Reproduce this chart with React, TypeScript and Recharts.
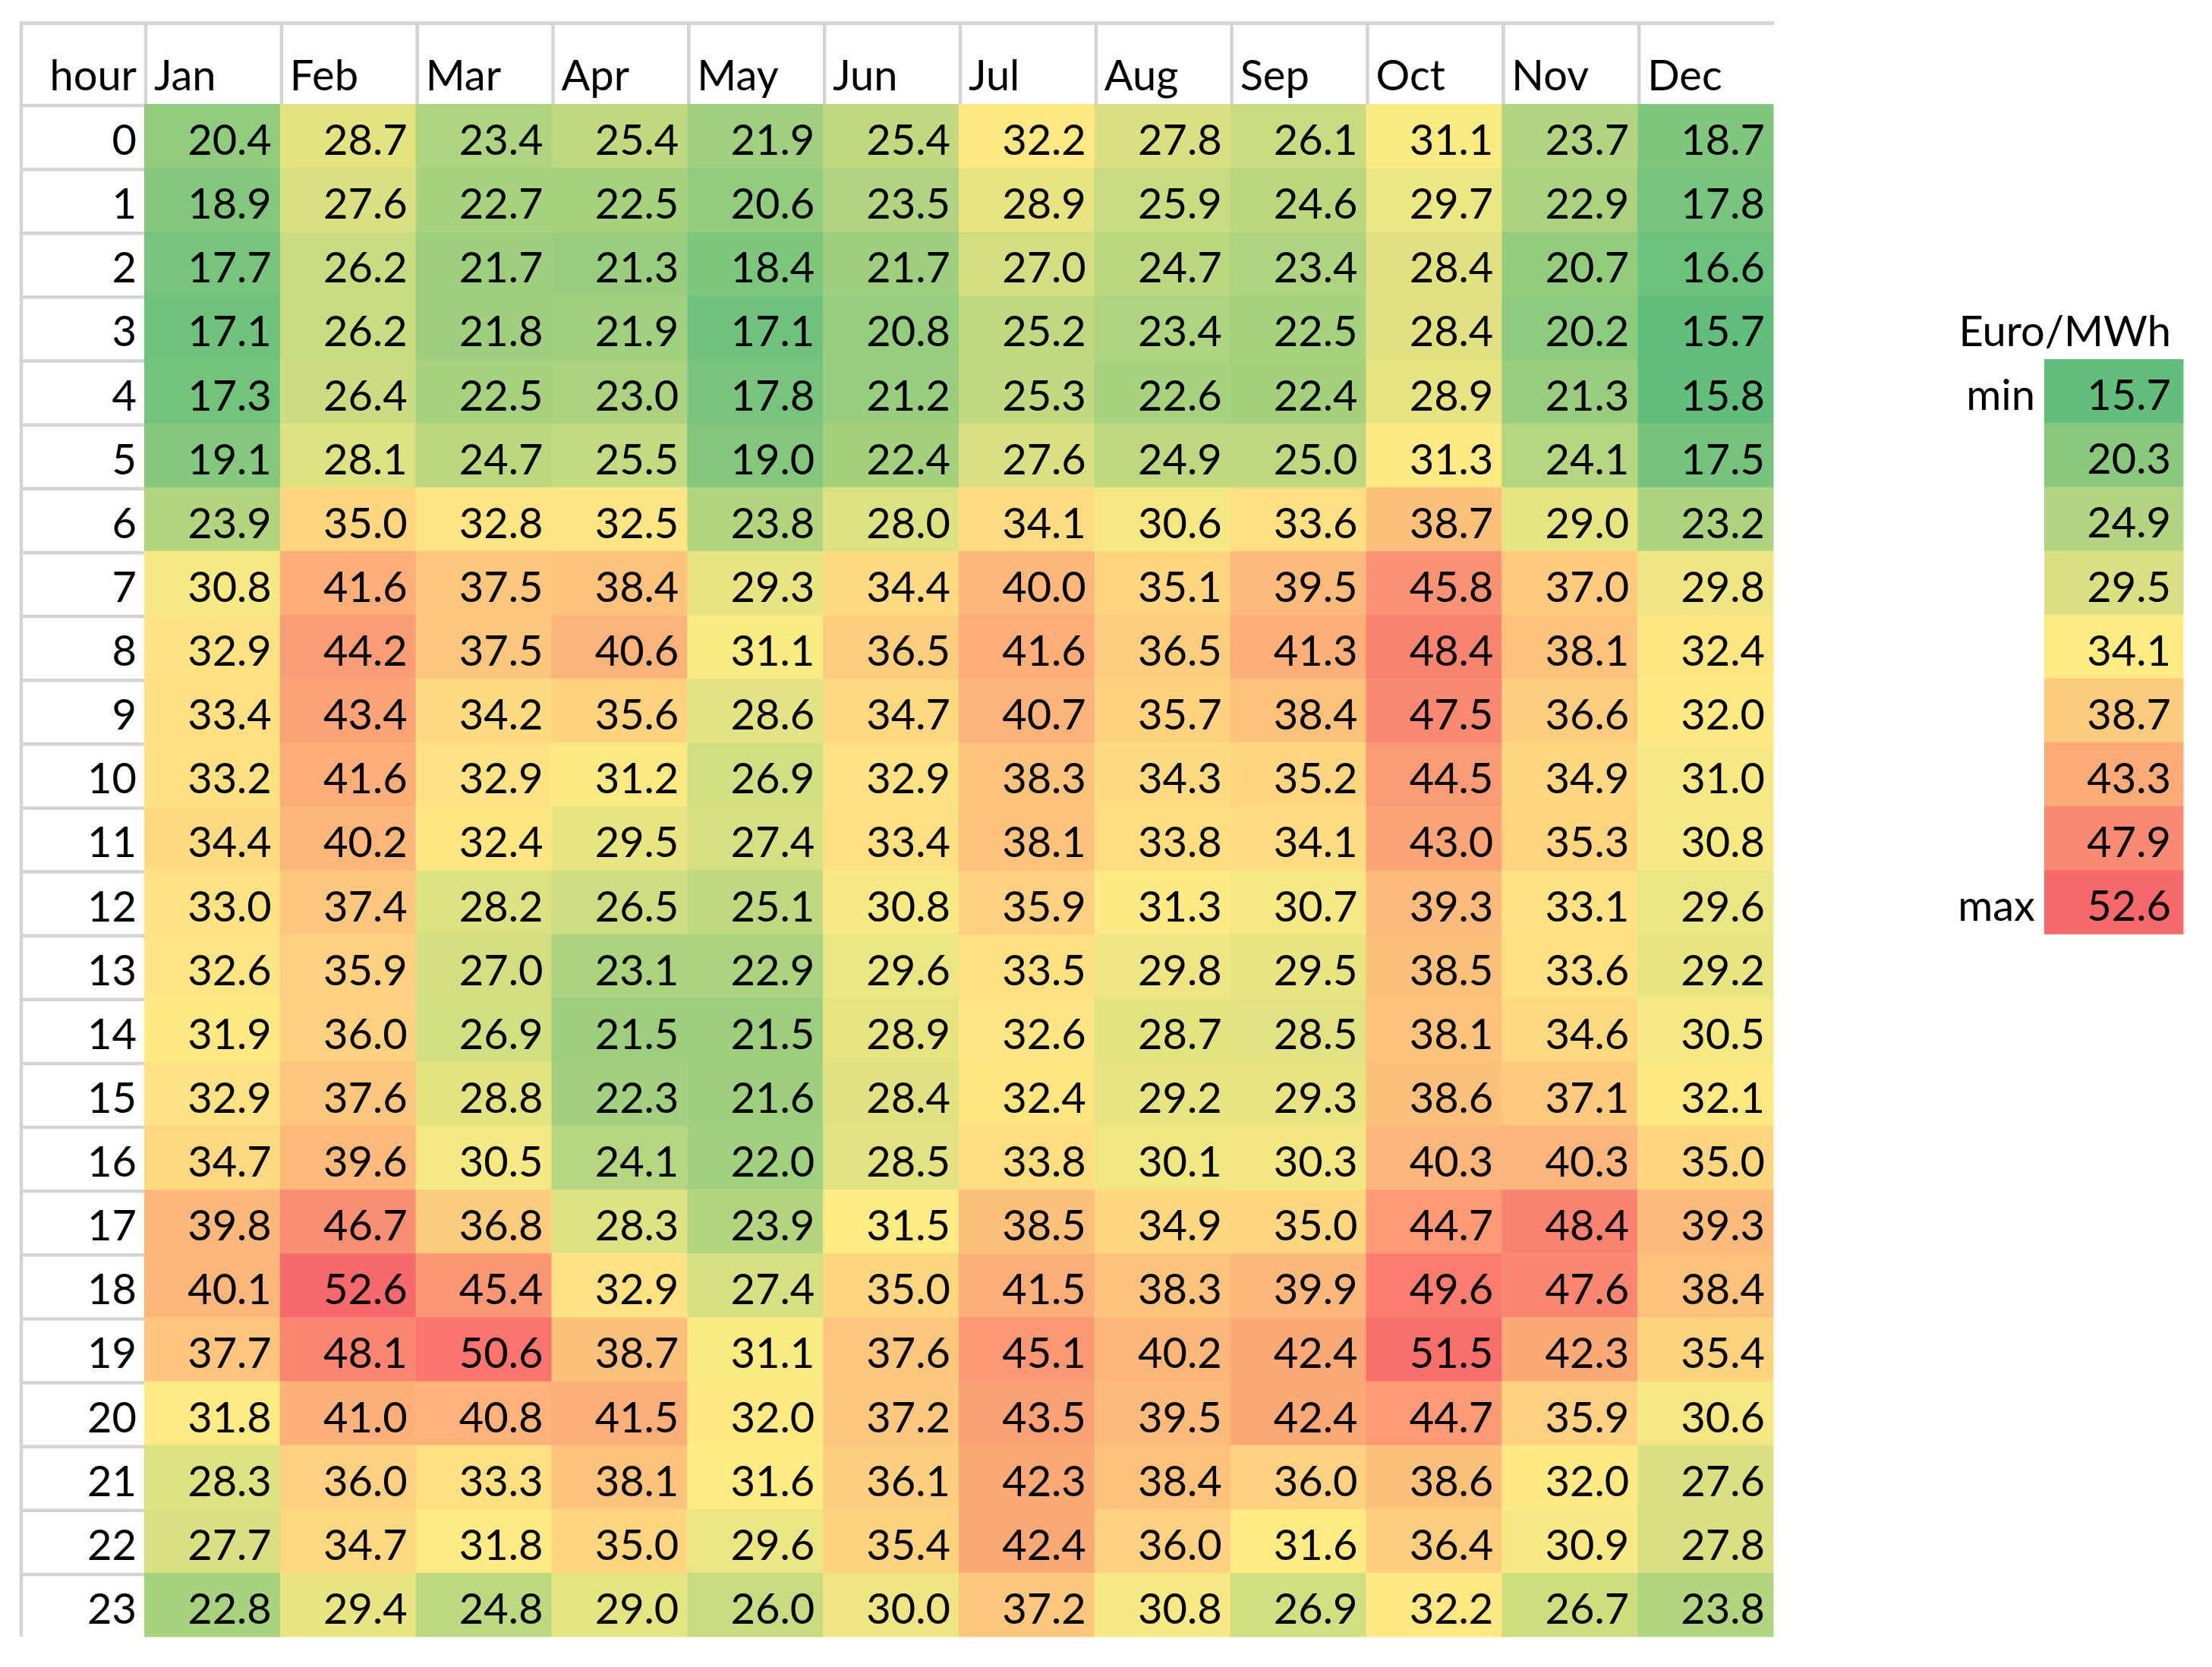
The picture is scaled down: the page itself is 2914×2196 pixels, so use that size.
import { ScatterChart, Scatter, XAxis, YAxis } from "recharts";

const months = ["Jan", "Feb", "Mar", "Apr", "May", "Jun", "Jul", "Aug", "Sep", "Oct", "Nov", "Dec"];
const hours = [0, 1, 2, 3, 4, 5, 6, 7, 8, 9, 10, 11, 12, 13, 14, 15, 16, 17, 18, 19, 20, 21, 22, 23];

// Euro/MWh per hour of day, one array per month
const jan = [20.4, 18.9, 17.7, 17.1, 17.3, 19.1, 23.9, 30.8, 32.9, 33.4, 33.2, 34.4, 33.0, 32.6, 31.9, 32.9, 34.7, 39.8, 40.1, 37.7, 31.8, 28.3, 27.7, 22.8];
const feb = [28.7, 27.6, 26.2, 26.2, 26.4, 28.1, 35.0, 41.6, 44.2, 43.4, 41.6, 40.2, 37.4, 35.9, 36.0, 37.6, 39.6, 46.7, 52.6, 48.1, 41.0, 36.0, 34.7, 29.4];
const mar = [23.4, 22.7, 21.7, 21.8, 22.5, 24.7, 32.8, 37.5, 37.5, 34.2, 32.9, 32.4, 28.2, 27.0, 26.9, 28.8, 30.5, 36.8, 45.4, 50.6, 40.8, 33.3, 31.8, 24.8];
const apr = [25.4, 22.5, 21.3, 21.9, 23.0, 25.5, 32.5, 38.4, 40.6, 35.6, 31.2, 29.5, 26.5, 23.1, 21.5, 22.3, 24.1, 28.3, 32.9, 38.7, 41.5, 38.1, 35.0, 29.0];
const may = [21.9, 20.6, 18.4, 17.1, 17.8, 19.0, 23.8, 29.3, 31.1, 28.6, 26.9, 27.4, 25.1, 22.9, 21.5, 21.6, 22.0, 23.9, 27.4, 31.1, 32.0, 31.6, 29.6, 26.0];
const jun = [25.4, 23.5, 21.7, 20.8, 21.2, 22.4, 28.0, 34.4, 36.5, 34.7, 32.9, 33.4, 30.8, 29.6, 28.9, 28.4, 28.5, 31.5, 35.0, 37.6, 37.2, 36.1, 35.4, 30.0];
const jul = [32.2, 28.9, 27.0, 25.2, 25.3, 27.6, 34.1, 40.0, 41.6, 40.7, 38.3, 38.1, 35.9, 33.5, 32.6, 32.4, 33.8, 38.5, 41.5, 45.1, 43.5, 42.3, 42.4, 37.2];
const aug = [27.8, 25.9, 24.7, 23.4, 22.6, 24.9, 30.6, 35.1, 36.5, 35.7, 34.3, 33.8, 31.3, 29.8, 28.7, 29.2, 30.1, 34.9, 38.3, 40.2, 39.5, 38.4, 36.0, 30.8];
const sep = [26.1, 24.6, 23.4, 22.5, 22.4, 25.0, 33.6, 39.5, 41.3, 38.4, 35.2, 34.1, 30.7, 29.5, 28.5, 29.3, 30.3, 35.0, 39.9, 42.4, 42.4, 36.0, 31.6, 26.9];
const oct = [31.1, 29.7, 28.4, 28.4, 28.9, 31.3, 38.7, 45.8, 48.4, 47.5, 44.5, 43.0, 39.3, 38.5, 38.1, 38.6, 40.3, 44.7, 49.6, 51.5, 44.7, 38.6, 36.4, 32.2];
const nov = [23.7, 22.9, 20.7, 20.2, 21.3, 24.1, 29.0, 37.0, 38.1, 36.6, 34.9, 35.3, 33.1, 33.6, 34.6, 37.1, 40.3, 48.4, 47.6, 42.3, 35.9, 32.0, 30.9, 26.7];
const dec = [18.7, 17.8, 16.6, 15.7, 15.8, 17.5, 23.2, 29.8, 32.4, 32.0, 31.0, 30.8, 29.6, 29.2, 30.5, 32.1, 35.0, 39.3, 38.4, 35.4, 30.6, 27.6, 27.8, 23.8];

const legendValues = [15.7, 20.3, 24.9, 29.5, 34.1, 38.7, 43.3, 47.9, 52.6];
const legendLabels = ["min", "", "", "", "", "", "", "", "max"];
const unitLabel = "Euro/MWh";
const cornerLabel = "hour";

const series = [jan, feb, mar, apr, may, jun, jul, aug, sep, oct, nov, dec];

// layout
const W = 2914;
const H = 2196;
const TABLE_LEFT = 28;
const TOP_LINE = 30.5;
const HEADER_TOP = 33;
const PLOT_TOP = 137;
const PLOT_LEFT = 190;
const PLOT_RIGHT = 2336;
const PLOT_BOTTOM = 2156;
const CELL_W = (PLOT_RIGHT - PLOT_LEFT) / months.length;
const CELL_H = (PLOT_BOTTOM - PLOT_TOP) / hours.length;
const LEG_LEFT = 2503;
const LEG_AXIS_W = 190;
const LEG_CELL_W = 183;
const GRID = "#d4d4d4";
const FONT = "Lato, 'Open Sans', sans-serif";
const FS = 56;

// excel 3-colour scale
const GREEN = [99, 190, 123];
const YELLOW = [255, 235, 132];
const RED = [248, 105, 107];

function median(vals: number[]) {
  const s = [...vals].sort((a, b) => a - b);
  const n = s.length;
  return n % 2 ? s[(n - 1) / 2] : (s[n / 2 - 1] + s[n / 2]) / 2;
}

function scaleColor(v: number, min: number, mid: number, max: number) {
  const low = v <= mid;
  const a = low ? GREEN : YELLOW;
  const b = low ? YELLOW : RED;
  const t = low ? (v - min) / (mid - min) : (v - mid) / (max - mid);
  const c = a.map((x, i) => Math.round(x + (b[i] - x) * Math.max(0, Math.min(1, t))));
  return `rgb(${c.join(",")})`;
}

const cells = series.flatMap((vals, m) => vals.map((v, i) => ({ m, h: hours[i], v })));
const allVals = series.flat();
const tMin = Math.min(...allVals);
const tMax = Math.max(...allVals);
const tMid = median(allVals);

const legendCells = legendValues.map((v, i) => ({ x: 0, y: i, v }));
const lMid = median(legendValues);

function HeatCell(props: any) {
  const { cx, cy, payload, w, h, color, pad } = props;
  return (
    <g>
      <rect x={cx - w / 2} y={cy - h / 2} width={w + 0.5} height={h + 0.5} fill={color(payload.v)} />
      <text x={cx + w / 2 - pad} y={cy + 25} textAnchor="end" fontSize={FS} fontFamily={FONT} fill="#000">
        {payload.v.toFixed(1)}
      </text>
    </g>
  );
}

function MonthTick(props: any) {
  const { x, y, payload, index } = props;
  const left = x - CELL_W / 2;
  return (
    <g>
      <line x1={left} x2={left + CELL_W + 1} y1={TOP_LINE} y2={TOP_LINE} stroke={GRID} strokeWidth={5} />
      <line x1={left + 2} x2={left + 2} y1={HEADER_TOP} y2={y} stroke={GRID} strokeWidth={4.5} />
      {index === 0 && (
        <g>
          <line x1={TABLE_LEFT - 2} x2={left} y1={TOP_LINE} y2={TOP_LINE} stroke={GRID} strokeWidth={5} />
          <line x1={TABLE_LEFT} x2={TABLE_LEFT} y1={TOP_LINE} y2={y} stroke={GRID} strokeWidth={4.5} />
          <text x={left - 10} y={y - 18} textAnchor="end" fontSize={FS} fontFamily={FONT} fill="#000">
            {cornerLabel}
          </text>
        </g>
      )}
      <text x={left + 13} y={y - 18} textAnchor="start" fontSize={FS} fontFamily={FONT} fill="#000">
        {months[payload.value]}
      </text>
    </g>
  );
}

function HourTick(props: any) {
  const { x, y, payload } = props;
  const top = y - CELL_H / 2;
  return (
    <g>
      <line x1={TABLE_LEFT - 2} x2={x} y1={top + 2} y2={top + 2} stroke={GRID} strokeWidth={4.5} />
      <line x1={TABLE_LEFT} x2={TABLE_LEFT} y1={top} y2={top + CELL_H} stroke={GRID} strokeWidth={4.5} />
      <text x={x - 10} y={y + 25} textAnchor="end" fontSize={FS} fontFamily={FONT} fill="#000">
        {payload.value}
      </text>
    </g>
  );
}

function UnitTick(props: any) {
  const { x, y } = props;
  return (
    <text x={x + LEG_CELL_W / 2 - 16} y={y - 17} textAnchor="end" fontSize={FS} fontFamily={FONT} fill="#000">
      {unitLabel}
    </text>
  );
}

function LegendTick(props: any) {
  const { x, y, payload } = props;
  return (
    <text x={x - 12} y={y + 25} textAnchor="end" fontSize={FS} fontFamily={FONT} fill="#000">
      {legendLabels[payload.value]}
    </text>
  );
}

export default function App() {
  const legendTop = PLOT_TOP + 3 * CELL_H;
  const legendH = CELL_H * (legendValues.length + 1) + 10;
  return (
    <div style={{ position: "absolute", left: 0, top: 0, width: W, height: H, background: "#fff" }}>
      <div style={{ position: "absolute", left: 0, top: 0 }}>
        <ScatterChart
          width={W}
          height={H}
          margin={{ top: HEADER_TOP, left: TABLE_LEFT, right: W - PLOT_RIGHT, bottom: H - PLOT_BOTTOM }}
        >
          <XAxis
            type="number"
            dataKey="m"
            orientation="top"
            domain={[-0.5, months.length - 0.5]}
            ticks={months.map((_, i) => i)}
            interval={0}
            height={PLOT_TOP - HEADER_TOP}
            tickLine={false}
            axisLine={false}
            tickSize={0}
            tickMargin={0}
            tick={<MonthTick />}
          />
          <YAxis
            type="number"
            dataKey="h"
            reversed
            domain={[-0.5, hours.length - 0.5]}
            ticks={hours}
            interval={0}
            width={PLOT_LEFT - TABLE_LEFT}
            tickLine={false}
            axisLine={false}
            tickSize={0}
            tickMargin={0}
            tick={<HourTick />}
          />
          <Scatter
            data={cells}
            isAnimationActive={false}
            shape={(p: any) => (
              <HeatCell {...p} w={CELL_W} h={CELL_H} pad={11} color={(v: number) => scaleColor(v, tMin, tMid, tMax)} />
            )}
          />
        </ScatterChart>
      </div>
      <div style={{ position: "absolute", left: LEG_LEFT, top: legendTop }}>
        <ScatterChart
          width={LEG_AXIS_W + LEG_CELL_W + 10}
          height={legendH}
          margin={{ top: 0, left: 0, right: 10, bottom: 10 }}
        >
          <XAxis
            type="number"
            dataKey="x"
            orientation="top"
            domain={[-0.5, 0.5]}
            ticks={[0]}
            interval={0}
            height={CELL_H}
            tickLine={false}
            axisLine={false}
            tickSize={0}
            tickMargin={0}
            tick={<UnitTick />}
          />
          <YAxis
            type="number"
            dataKey="y"
            reversed
            domain={[-0.5, legendValues.length - 0.5]}
            ticks={legendValues.map((_, i) => i)}
            interval={0}
            width={LEG_AXIS_W}
            tickLine={false}
            axisLine={false}
            tickSize={0}
            tickMargin={0}
            tick={<LegendTick />}
          />
          <Scatter
            data={legendCells}
            isAnimationActive={false}
            shape={(p: any) => (
              <HeatCell
                {...p}
                w={LEG_CELL_W}
                h={CELL_H}
                pad={16}
                color={(v: number) => scaleColor(v, legendValues[0], lMid, legendValues[legendValues.length - 1])}
              />
            )}
          />
        </ScatterChart>
      </div>
    </div>
  );
}
